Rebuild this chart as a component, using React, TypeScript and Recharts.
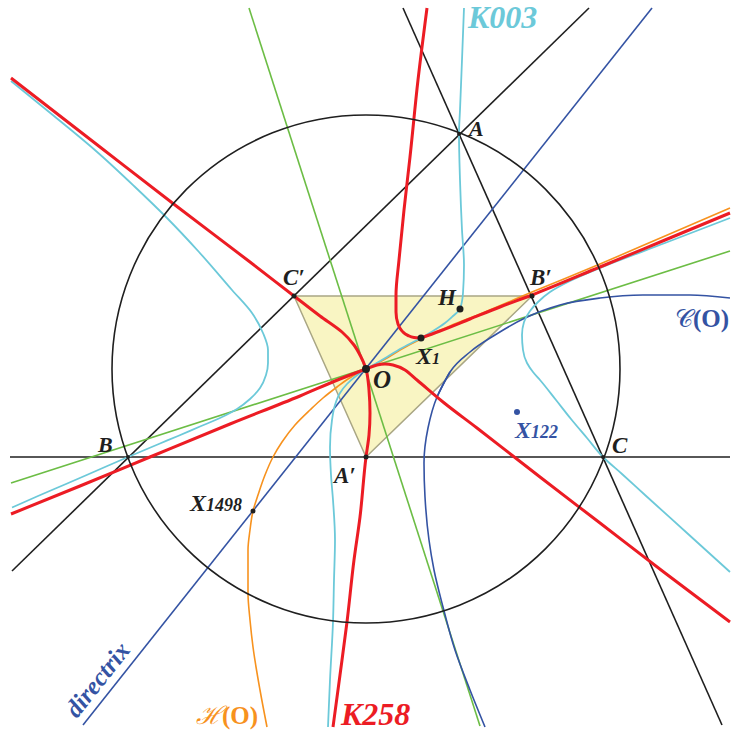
import React from 'react';
import { ComposedChart, Line, Area, Scatter, XAxis, YAxis, ReferenceDot } from 'recharts';

// ---------- data (picture coordinates, y downward) ----------
const namedPoints = [
  { name: 'A', x: 459, y: 134 },
  { name: 'B', x: 128, y: 457 },
  { name: 'C', x: 603, y: 457 },
  { name: "A'", x: 366, y: 457 },
  { name: "B'", x: 532, y: 296 },
  { name: "C'", x: 294, y: 296 },
  { name: 'O', x: 366, y: 369 },
  { name: 'H', x: 460, y: 309 },
  { name: 'X1', x: 421, y: 338 },
  { name: 'X1498', x: 253, y: 511 },
  { name: 'X122', x: 517, y: 412 },
];

const circumcircle = { cx: 366, cy: 369, r: 254 };

const lineAB = [{ x: 12, y: 571 }, { x: 589, y: 8 }];
const lineAC = [{ x: 403, y: 8 }, { x: 722, y: 725 }];
const lineBC = [{ x: 10, y: 457 }, { x: 730, y: 457 }];
const greenSteep = [{ x: 249, y: 8 }, { x: 480, y: 726 }];
const greenShallow = [{ x: 11, y: 483 }, { x: 730, y: 251 }];
const directrix = [{ x: 83, y: 725 }, { x: 652, y: 8 }];
const medialTriangle = [{ x: 294, y: 296 }, { x: 366, y: 457 }, { x: 532, y: 296 }];
const medialTop = [{ x: 294, y: 296 }, { x: 532, y: 296 }];

const k258Node1 = [
  { x: 11, y: 78 }, { x: 100, y: 147 }, { x: 175, y: 205 }, { x: 250, y: 262 }, { x: 294, y: 296 },
  { x: 320, y: 316 }, { x: 342, y: 332 }, { x: 354, y: 345 }, { x: 361, y: 357 }, { x: 365, y: 366 },
  { x: 366, y: 369 }, { x: 369, y: 390 }, { x: 370, y: 413 }, { x: 369, y: 435 }, { x: 366, y: 457 },
  { x: 360, y: 517 }, { x: 354, y: 560 }, { x: 347, y: 622 }, { x: 340, y: 675 }, { x: 333, y: 727 },
];
const k258Node2 = [
  { x: 11, y: 514 }, { x: 80, y: 486 }, { x: 150, y: 457 }, { x: 230, y: 424 }, { x: 300, y: 396 },
  { x: 340, y: 379 }, { x: 366, y: 369 }, { x: 377, y: 365 }, { x: 385, y: 364 }, { x: 393, y: 365 },
  { x: 405, y: 370 }, { x: 417, y: 380 }, { x: 443, y: 402 }, { x: 477, y: 428 }, { x: 513, y: 456 },
  { x: 540, y: 477 }, { x: 600, y: 523 }, { x: 665, y: 573 }, { x: 730, y: 622 },
];
const k258TopA = [
  { x: 427, y: 8 }, { x: 418, y: 80 }, { x: 410, y: 157 }, { x: 404, y: 210 }, { x: 399, y: 260 },
  { x: 396, y: 295 }, { x: 396, y: 312 }, { x: 398, y: 324 }, { x: 402, y: 331 }, { x: 408, y: 335.5 },
  { x: 414, y: 337.5 }, { x: 421, y: 338 },
];
const k258TopB = [
  { x: 421, y: 338 }, { x: 440, y: 331 }, { x: 470, y: 319 }, { x: 500, y: 307 }, { x: 532, y: 295 },
  { x: 600, y: 267 }, { x: 665, y: 240 }, { x: 730, y: 213 },
];

const k003Main = [
  { x: 464, y: 8 }, { x: 462, y: 60 }, { x: 460, y: 110 }, { x: 459, y: 134 }, { x: 460, y: 180 },
  { x: 462, y: 230 }, { x: 464, y: 265 }, { x: 463, y: 293 }, { x: 460, y: 309 }, { x: 453, y: 316 },
  { x: 445, y: 323 }, { x: 433, y: 331 }, { x: 421, y: 338 }, { x: 400, y: 349 }, { x: 387, y: 357 },
  { x: 375, y: 364 }, { x: 366, y: 369 }, { x: 356, y: 376 }, { x: 347, y: 384 }, { x: 340, y: 393 },
  { x: 335, y: 405 }, { x: 332, y: 420 }, { x: 330, y: 447 }, { x: 331, y: 475 }, { x: 333, y: 500 },
  { x: 335, y: 540 }, { x: 334, y: 580 }, { x: 333, y: 622 }, { x: 330, y: 680 }, { x: 328, y: 727 },
];
const k003Left = [
  { x: 11, y: 81 }, { x: 54, y: 116 }, { x: 96, y: 151 }, { x: 134, y: 186 }, { x: 166, y: 217 },
  { x: 199, y: 252 }, { x: 232, y: 290 }, { x: 252, y: 313 }, { x: 263, y: 333 }, { x: 268, y: 350 },
  { x: 268, y: 363 }, { x: 266, y: 375 }, { x: 260, y: 388 }, { x: 250, y: 399 }, { x: 237, y: 409 },
  { x: 220, y: 418 }, { x: 200, y: 426.5 }, { x: 178, y: 436 }, { x: 160, y: 443.5 }, { x: 128, y: 457 },
  { x: 97, y: 470.5 }, { x: 66, y: 484 }, { x: 38, y: 496 }, { x: 12, y: 507.5 },
];
const k003Right = [
  { x: 730, y: 218 }, { x: 665, y: 243 }, { x: 600, y: 268 }, { x: 570, y: 281 }, { x: 550, y: 292 },
  { x: 538, y: 302 }, { x: 530, y: 311 }, { x: 524, y: 322 }, { x: 522, y: 335 }, { x: 523, y: 350 },
  { x: 527, y: 363 }, { x: 533, y: 372 }, { x: 540, y: 380 }, { x: 556, y: 400 }, { x: 571, y: 419 },
  { x: 587, y: 438 }, { x: 603, y: 457 }, { x: 622, y: 474 }, { x: 645, y: 495 }, { x: 687, y: 533 },
  { x: 730, y: 572 },
];

const hyperbolaHO = [
  { x: 730, y: 208 }, { x: 665, y: 236 }, { x: 600, y: 264 }, { x: 532, y: 292 }, { x: 480, y: 314 },
  { x: 450, y: 326 }, { x: 423, y: 338 }, { x: 400, y: 350 }, { x: 387, y: 358 }, { x: 376, y: 364 },
  { x: 366, y: 369 }, { x: 360, y: 372 }, { x: 348, y: 379 }, { x: 337, y: 387 }, { x: 323, y: 398 },
  { x: 310, y: 410 }, { x: 295, y: 425 }, { x: 282, y: 442 }, { x: 273, y: 457 }, { x: 265, y: 475 },
  { x: 258, y: 495 }, { x: 253, y: 511 }, { x: 250, y: 530 }, { x: 248, y: 550 }, { x: 248, y: 593 },
  { x: 250, y: 620 }, { x: 253, y: 647 }, { x: 260, y: 690 }, { x: 267, y: 727 },
];

const conicCOUpper = [
  { x: 437, y: 397 }, { x: 450, y: 372 }, { x: 470, y: 352 }, { x: 495, y: 335 }, { x: 525, y: 318 },
  { x: 560, y: 305 }, { x: 600, y: 298 }, { x: 643, y: 295 }, { x: 690, y: 295 }, { x: 730, y: 298 },
];
const conicCOLower = [
  { x: 450, y: 372 }, { x: 437, y: 397 }, { x: 428, y: 428 }, { x: 424, y: 463 }, { x: 425, y: 497 },
  { x: 429, y: 540 }, { x: 434, y: 570 }, { x: 443, y: 607 }, { x: 455, y: 650 }, { x: 470, y: 690 },
  { x: 485, y: 727 },
];

const pointLabels = [
  { id: 'A', main: 'A', sub: '', x: 469, y: 136 },
  { id: 'B', main: 'B', sub: '', x: 98, y: 452 },
  { id: 'C', main: 'C', sub: '', x: 612, y: 453 },
  { id: "A'", main: 'A′', sub: '', x: 334, y: 483 },
  { id: "B'", main: 'B′', sub: '', x: 530, y: 285 },
  { id: "C'", main: 'C′', sub: '', x: 283, y: 285 },
  { id: 'O', main: 'O', sub: '', x: 373, y: 388 },
  { id: 'H', main: 'H', sub: '', x: 438, y: 305 },
  { id: 'X1', main: 'X', sub: '1', x: 416, y: 364 },
  { id: 'X122', main: 'X', sub: '122', x: 515, y: 438 },
  { id: 'X1498', main: 'X', sub: '1498', x: 190, y: 511 },
];

const curveLabels = [
  { id: 'K003', x: 468, y: 28 },
  { id: 'K258', x: 341, y: 725 },
  { id: 'HO', x: 196, y: 724 },
  { id: 'CO', x: 675, y: 327 },
  { id: 'directrix', x: 77, y: 719 },
];

// ---------- styles ----------
const RED = '#ec1c24';
const CYAN = '#6cc9d9';
const GREEN = '#6cbd45';
const BLUE = '#3453a3';
const ORANGE = '#f7921e';
const BLACK = '#1f1f1f';
const SERIF = '"Liberation Serif", "DejaVu Serif", serif';

const dotStyle: Record<string, { r: number; color: string }> = {
  A: { r: 2, color: BLACK },
  B: { r: 2, color: BLACK },
  C: { r: 2, color: BLACK },
  "A'": { r: 2.5, color: BLACK },
  "B'": { r: 2.5, color: BLACK },
  "C'": { r: 2.5, color: BLACK },
  O: { r: 4, color: BLACK },
  H: { r: 3.5, color: BLACK },
  X1: { r: 3.5, color: BLACK },
  X1498: { r: 2.5, color: BLACK },
  X122: { r: 3, color: BLUE },
};

const labelStyle: Record<string, { size: number; sub: number; color: string }> = {
  A: { size: 22, sub: 0, color: BLACK },
  B: { size: 22, sub: 0, color: BLACK },
  C: { size: 23, sub: 0, color: BLACK },
  "A'": { size: 23, sub: 0, color: BLACK },
  "B'": { size: 23, sub: 0, color: BLACK },
  "C'": { size: 23, sub: 0, color: BLACK },
  O: { size: 25, sub: 0, color: BLACK },
  H: { size: 23, sub: 0, color: BLACK },
  X1: { size: 24, sub: 16, color: BLACK },
  X122: { size: 24, sub: 18, color: BLUE },
  X1498: { size: 24, sub: 18, color: BLACK },
};

const DotShape = (props: any) => {
  const { cx, cy, payload } = props;
  const s = dotStyle[payload.name];
  return <circle cx={cx} cy={cy} r={s.r} fill={s.color} />;
};

const PointLabelShape = (props: any) => {
  const { cx, cy, payload } = props;
  const s = labelStyle[payload.id];
  return (
    <text x={cx} y={cy} fill={s.color} fontFamily={SERIF} fontWeight="bold" fontStyle="italic" fontSize={s.size}>
      {payload.main}
      {payload.sub ? <tspan fontSize={s.sub}>{payload.sub}</tspan> : null}
    </text>
  );
};

const CurveLabelShape = (props: any) => {
  const { cx, cy, payload } = props;
  switch (payload.id) {
    case 'K003':
      return (
        <text x={cx} y={cy} fill={CYAN} fontFamily={SERIF} fontWeight="bold" fontStyle="italic" fontSize={32}>K003</text>
      );
    case 'K258':
      return (
        <text x={cx} y={cy} fill={RED} fontFamily={SERIF} fontWeight="bold" fontStyle="italic" fontSize={32}>K258</text>
      );
    case 'HO':
      return (
        <text x={cx} y={cy} fill={ORANGE} fontFamily={SERIF} fontSize={25}>
          <tspan fontStyle="italic">ℋ</tspan>
          <tspan fontWeight="bold">(O)</tspan>
        </text>
      );
    case 'CO':
      return (
        <text x={cx} y={cy} fill={BLUE} fontFamily={SERIF} fontSize={25}>
          <tspan>𝒞</tspan>
          <tspan fontWeight="bold">(O)</tspan>
        </text>
      );
    case 'directrix':
      return (
        <text
          x={cx}
          y={cy}
          fill={BLUE}
          fontFamily={SERIF}
          fontWeight="bold"
          fontStyle="italic"
          fontSize={25}
          transform={`rotate(-51.6 ${cx} ${cy})`}
        >
          directrix
        </text>
      );
    default:
      return null;
  }
};

const W = 733;
const H = 734;

export default function App() {
  const seg = (data: any[], color: string, width: number, type: any = 'linear', key?: string) => (
    <Line
      key={key}
      data={data}
      dataKey="y"
      type={type}
      stroke={color}
      strokeWidth={width}
      dot={false}
      activeDot={false}
      isAnimationActive={false}
      legendType="none"
    />
  );
  return (
    <div style={{ position: 'absolute', left: 0, top: 0, width: W, height: H, background: '#fff' }}>
      <ComposedChart width={W} height={H} margin={{ top: 0, right: 0, bottom: 0, left: 0 }}>
        <XAxis dataKey="x" type="number" domain={[0, W]} allowDataOverflow hide />
        <YAxis dataKey="y" type="number" domain={[0, H]} allowDataOverflow reversed hide />
        <Area
          data={medialTriangle}
          dataKey="y"
          type="linear"
          baseValue={296}
          fill="#f9f5c3"
          fillOpacity={1}
          stroke="#a9a684"
          strokeWidth={1.5}
          dot={false}
          activeDot={false}
          isAnimationActive={false}
        />
        {seg(medialTop, '#a9a684', 1.5, 'linear', 'mt')}
        <ReferenceDot
          x={circumcircle.cx}
          y={circumcircle.cy}
          r={circumcircle.r}
          fill="none"
          stroke={BLACK}
          strokeWidth={1.6}
          ifOverflow="visible"
        />
        {seg(lineAB, BLACK, 1.6, 'linear', 'ab')}
        {seg(lineAC, BLACK, 1.6, 'linear', 'ac')}
        {seg(lineBC, BLACK, 1.6, 'linear', 'bc')}
        {seg(greenSteep, GREEN, 1.6, 'linear', 'g1')}
        {seg(greenShallow, GREEN, 1.6, 'linear', 'g2')}
        {seg(directrix, BLUE, 1.6, 'linear', 'dir')}
        {seg(conicCOUpper, BLUE, 1.6, 'monotoneX', 'co1')}
        {seg(conicCOLower, BLUE, 1.6, 'monotoneY', 'co2')}
        {seg(hyperbolaHO, ORANGE, 1.6, 'monotoneY', 'ho')}
        {seg(k003Main, CYAN, 1.8, 'monotoneY', 'k1')}
        {seg(k003Left, CYAN, 1.8, 'monotoneY', 'k2')}
        {seg(k003Right, CYAN, 1.8, 'monotoneY', 'k3')}
        {seg(k258Node1, RED, 3, 'monotoneY', 'r1')}
        {seg(k258Node2, RED, 3, 'monotoneX', 'r2')}
        {seg(k258TopA, RED, 3, 'monotoneY', 'r3')}
        {seg(k258TopB, RED, 3, 'monotoneX', 'r4')}
        <Scatter data={namedPoints} shape={DotShape} isAnimationActive={false} legendType="none" />
        <Scatter data={pointLabels} shape={PointLabelShape} isAnimationActive={false} legendType="none" />
        <Scatter data={curveLabels} shape={CurveLabelShape} isAnimationActive={false} legendType="none" />
      </ComposedChart>
    </div>
  );
}
